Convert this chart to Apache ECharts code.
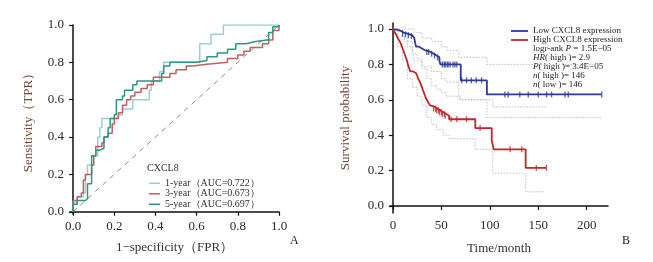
<!DOCTYPE html>
<html>
<head>
<meta charset="utf-8">
<script src="https://cdn.jsdelivr.net/npm/echarts@6/dist/echarts.min.js"></script>
<style>
  html, body { margin: 0; padding: 0; background: #fff; }
  #chart { width: 653px; height: 262px; }
</style>
</head>
<body>
<div id="chart"></div>
<script>
// ROC 曲线 (FPR, TPR) — step 'end': 在该 FPR 处升到该 TPR
const roc1y = [[0,0],[0,0.05],[0.02,0.08],[0.05,0.1],[0.06,0.2],[0.07,0.25],[0.1,0.3],[0.12,0.4],[0.13,0.45],[0.14,0.5],[0.22,0.52],[0.24,0.55],[0.29,0.6],[0.37,0.65],[0.38,0.7],[0.42,0.75],[0.44,0.8],[0.6,0.8],[0.615,0.9],[0.67,0.95],[0.73,1.0],[1,1]]
const roc3y = [[0,0],[0,0.06],[0.02,0.08],[0.04,0.1],[0.05,0.17],[0.06,0.2],[0.08,0.2],[0.09,0.25],[0.1,0.3],[0.11,0.35],[0.14,0.37],[0.15,0.4],[0.17,0.42],[0.19,0.47],[0.2,0.5],[0.22,0.53],[0.24,0.57],[0.26,0.6],[0.28,0.62],[0.3,0.64],[0.33,0.66],[0.36,0.68],[0.39,0.72],[0.44,0.72],[0.47,0.74],[0.5,0.76],[0.55,0.78],[0.58,0.79],[0.65,0.8],[0.75,0.82],[0.8,0.84],[0.83,0.86],[0.86,0.88],[0.92,0.9],[0.95,0.92],[0.97,0.97],[1,1]]
const roc5y = [[0,0],[0,0.04],[0.02,0.06],[0.06,0.07],[0.07,0.15],[0.09,0.3],[0.11,0.33],[0.13,0.34],[0.15,0.4],[0.17,0.45],[0.18,0.5],[0.2,0.52],[0.21,0.6],[0.24,0.62],[0.25,0.65],[0.29,0.68],[0.31,0.7],[0.41,0.7],[0.43,0.74],[0.44,0.78],[0.47,0.8],[0.6,0.81],[0.65,0.83],[0.7,0.85],[0.75,0.87],[0.79,0.9],[0.84,0.91],[0.88,0.92],[0.94,0.92],[0.95,0.96],[0.97,0.99],[1,1]]
const rocDiag = [[0,0],[1,1]]
const rocTicks = [0, 0.2, 0.4, 0.6, 0.8, 1.0]

// KM 生存曲线 (月, 生存率)
const kmLow = [[0,1],[2,0.995],[5,0.99],[8,0.98],[11,0.975],[14,0.97],[17,0.965],[20,0.96],[22,0.95],[23,0.92],[24,0.9],[27,0.89],[30,0.88],[33,0.875],[36,0.87],[39,0.86],[42,0.85],[45,0.84],[48,0.82],[49,0.8],[70,0.71],[97,0.63],[215,0.63]]
const kmHigh = [[0,1],[2,0.98],[4,0.96],[6,0.94],[8,0.92],[10,0.89],[12,0.86],[14,0.83],[16,0.79],[18,0.76],[21,0.75],[24,0.74],[26,0.72],[28,0.7],[30,0.67],[32,0.64],[34,0.61],[36,0.59],[38,0.57],[40,0.56],[43,0.55],[46,0.54],[49,0.53],[52,0.52],[55,0.51],[58,0.49],[85,0.44],[102,0.37],[104,0.32],[137,0.215],[158,0.215]]
const lowUpper = [[0,1],[22,0.98],[30,0.95],[40,0.93],[50,0.9],[56,0.88],[68,0.84],[97,0.8],[215,0.8]]
const lowLower = [[0,1],[5,0.96],[12,0.93],[20,0.89],[22,0.82],[30,0.79],[40,0.76],[50,0.72],[55,0.7],[68,0.6],[97,0.5],[215,0.5]]
const highUpper = [[0,1],[5,0.99],[10,0.95],[15,0.9],[20,0.86],[25,0.83],[30,0.78],[35,0.72],[40,0.68],[45,0.66],[50,0.64],[55,0.62],[70,0.6],[103,0.56],[158,0.56]]
const highLower = [[0,1],[5,0.9],[10,0.82],[15,0.72],[20,0.67],[25,0.62],[30,0.57],[35,0.5],[40,0.46],[45,0.43],[52,0.4],[58,0.38],[85,0.32],[103,0.185],[137,0.08],[156,0.08]]
const lowCensor = [[10,0.975],[13,0.97],[16,0.965],[19,0.96],[35,0.87],[37,0.87],[40,0.86],[43,0.85],[46,0.84],[51,0.8],[53,0.8],[54,0.8],[56,0.8],[57,0.8],[59,0.8],[62,0.8],[64,0.8],[66,0.8],[71,0.71],[76,0.71],[81,0.71],[86,0.71],[91.5,0.71],[115.6,0.63],[119,0.63],[131,0.63],[139.7,0.63],[150,0.63],[158.6,0.63],[163.8,0.63],[177.6,0.63],[181,0.63],[215.5,0.63]]
const highCensor = [[42,0.55],[44,0.55],[45,0.54],[47,0.54],[48,0.53],[50,0.53],[51,0.52],[53,0.52],[54,0.51],[60,0.49],[66,0.49],[76,0.49],[90,0.44],[121,0.32],[133,0.32],[148,0.215],[158.5,0.215]]
const kmXTicks = [0, 50, 100, 150, 200]
const kmYTicks = [0, 0.2, 0.4, 0.6, 0.8, 1.0]

const serif = 'Liberation Serif'
const tickColor = '#2a2a2a'
const yNameColor = '#7b4536'
const xNameColor = '#3a3030'

const chart = echarts.init(document.getElementById('chart'))

const axisCommon = {
  axisLine: { show: true, lineStyle: { color: '#111', width: 1.5 } },
  axisTick: { show: true, length: 4, lineStyle: { color: '#111', width: 1.2 } },
  splitLine: { show: false },
  axisLabel: { color: tickColor, fontFamily: serif, fontSize: 13, margin: 6 },
  nameLocation: 'middle',
  nameTextStyle: { fontFamily: serif, fontSize: 13 }
}

const ciLine = (data, color) => ({
  type: 'line', xAxisIndex: 1, yAxisIndex: 1, data, step: 'end',
  symbol: 'none', silent: true, z: 1,
  lineStyle: { color: color, width: 0.9, type: [1.5, 1.5] }
})

const rocLine = (name, data, color) => ({
  name, type: 'line', xAxisIndex: 0, yAxisIndex: 0, data, step: 'end',
  symbol: 'none', lineStyle: { color, width: 1.5 }, itemStyle: { color }
})

const option = {
  animation: false,
  grid: [
    { left: 70, top: 25, width: 209, height: 189 },
    { left: 390, top: 23, width: 218, height: 190 }
  ],
  xAxis: [
    {
      ...axisCommon, gridIndex: 0, type: 'value', min: -0.015, max: 1.0,
      axisTick: { ...axisCommon.axisTick, customValues: rocTicks },
      axisLabel: { ...axisCommon.axisLabel, customValues: rocTicks, formatter: v => v.toFixed(1) },
      name: '1−specificity（FPR）', nameGap: 27,
      nameTextStyle: { ...axisCommon.nameTextStyle, color: xNameColor }
    },
    {
      ...axisCommon, gridIndex: 1, type: 'value', min: -3, max: 222,
      axisTick: { ...axisCommon.axisTick, customValues: kmXTicks },
      axisLabel: { ...axisCommon.axisLabel, customValues: kmXTicks },
      name: 'Time/month', nameGap: 29,
      nameTextStyle: { ...axisCommon.nameTextStyle, color: xNameColor }
    }
  ],
  yAxis: [
    {
      ...axisCommon, gridIndex: 0, type: 'value', min: -0.012, max: 1.0,
      axisTick: { ...axisCommon.axisTick, customValues: rocTicks },
      axisLabel: { ...axisCommon.axisLabel, customValues: rocTicks, formatter: v => v.toFixed(1) },
      name: 'Sensitivity（TPR）', nameGap: 35,
      nameTextStyle: { ...axisCommon.nameTextStyle, color: yNameColor }
    },
    {
      ...axisCommon, gridIndex: 1, type: 'value', min: -0.04, max: 1.034,
      axisTick: { ...axisCommon.axisTick, customValues: kmYTicks },
      axisLabel: { ...axisCommon.axisLabel, customValues: kmYTicks, formatter: v => v.toFixed(1) },
      name: 'Survival probability', nameGap: 38,
      nameTextStyle: { ...axisCommon.nameTextStyle, color: yNameColor }
    }
  ],
  legend: [
    {
      data: ['1-year（AUC=0.722）', '3-year（AUC=0.673）', '5-year（AUC=0.697）'],
      orient: 'vertical', left: 149, top: 178, padding: 0, icon: 'rect',
      itemWidth: 11, itemHeight: 1.5, itemGap: 0,
      textStyle: { fontFamily: serif, fontSize: 10, lineHeight: 10.5, color: '#333' }
    },
    {
      data: ['Low CXCL8 expression', 'High CXCL8 expression'],
      orient: 'vertical', left: 511, top: 26.5, padding: 0, icon: 'rect',
      itemWidth: 17, itemHeight: 1.8, itemGap: 0,
      textStyle: { fontFamily: serif, fontSize: 9, lineHeight: 9, color: '#222' }
    }
  ],
  graphic: [
    { type: 'text', left: 147, top: 163, style: { text: 'CXCL8', fontFamily: serif, fontSize: 10, fill: '#333' } },
    {
      type: 'text', left: 533, top: 44,
      style: {
        text: '{n|logr-ank }{i|P}{n| = 1.5E−05}\n{i|HR}{n|( high )= 2.9}\n{i|P}{n|( high )= 3.4E−05}\n{i|n}{n|( high )= 146}\n{i|n}{n|( low )= 146}',
        fontFamily: serif, fontSize: 9, fill: '#222', lineHeight: 9,
        rich: {
          n: { fontFamily: serif, fontSize: 9, fill: '#222', lineHeight: 9 },
          i: { fontFamily: serif, fontSize: 9, fill: '#222', fontStyle: 'italic', lineHeight: 9 }
        }
      }
    },
    { type: 'text', left: 290, top: 235, style: { text: 'A', fontFamily: serif, fontSize: 12, fill: '#222' } },
    { type: 'text', left: 622, top: 235, style: { text: 'B', fontFamily: serif, fontSize: 12, fill: '#222' } }
  ],
  series: [
    {
      type: 'line', xAxisIndex: 0, yAxisIndex: 0, data: rocDiag, symbol: 'none', silent: true,
      lineStyle: { color: '#888', width: 1, type: [5, 5] }
    },
    rocLine('1-year（AUC=0.722）', roc1y, '#9ccfce'),
    rocLine('3-year（AUC=0.673）', roc3y, '#c0605e'),
    rocLine('5-year（AUC=0.697）', roc5y, '#2a9982'),

    ciLine(lowUpper, '#b8b8b8'),
    ciLine(lowLower, '#b8b8b8'),
    ciLine(highUpper, '#b8b8b8'),
    ciLine(highLower, '#b8b8b8'),
    {
      name: 'Low CXCL8 expression', type: 'line', xAxisIndex: 1, yAxisIndex: 1, data: kmLow,
      step: 'end', symbol: 'none', z: 3,
      lineStyle: { color: '#2b3a9a', width: 1.8 }, itemStyle: { color: '#2b3a9a' }
    },
    {
      name: 'High CXCL8 expression', type: 'line', xAxisIndex: 1, yAxisIndex: 1, data: kmHigh,
      step: 'end', symbol: 'none', z: 3,
      lineStyle: { color: '#c1272d', width: 1.8 }, itemStyle: { color: '#c1272d' }
    },
    {
      type: 'scatter', xAxisIndex: 1, yAxisIndex: 1, data: lowCensor, silent: true, z: 4,
      symbol: 'rect', symbolSize: [1.3, 6], itemStyle: { color: '#2b3a9a' }
    },
    {
      type: 'scatter', xAxisIndex: 1, yAxisIndex: 1, data: highCensor, silent: true, z: 4,
      symbol: 'rect', symbolSize: [1.3, 6], itemStyle: { color: '#c1272d' }
    }
  ]
}

chart.setOption(option)
window.addEventListener('resize', () => chart.resize())
</script>
</body>
</html>
